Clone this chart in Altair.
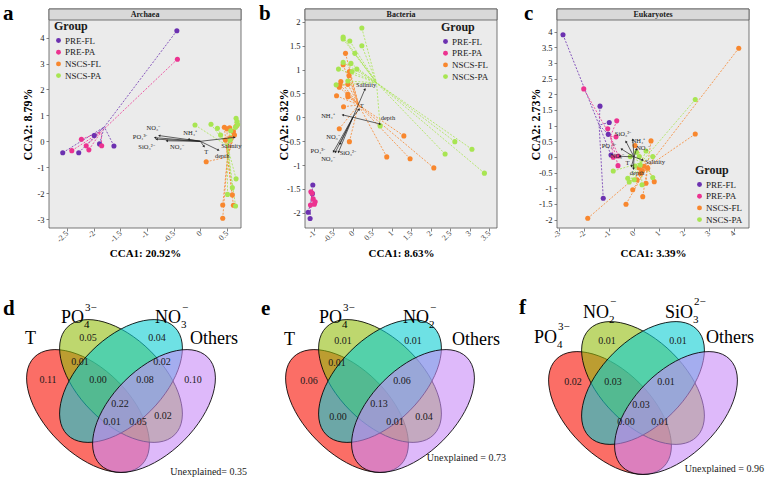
import altair as alt
import numpy as np
import pandas as pd

FONT = "Liberation Serif"
W, H = 767, 480

GROUPS = ["PRE-FL", "PRE-PA", "NSCS-FL", "NSCS-PA"]
GROUP_COLORS = ["#6C31B0", "#EC3390", "#F8872E", "#A8E552"]

# ---------------- Archaea CCA ----------------
arc_prefl_x = [-0.44, -2.58, -2.28, -1.99, -1.89, -1.62]
arc_prefl_y = [4.27, -0.44, -0.44, 0.22, -0.10, -0.18]
arc_prepa_x = [-0.43, -2.23, -2.41, -2.14, -2.09, -1.85]
arc_prepa_y = [3.17, 0.08, -0.36, -0.17, -0.33, -0.17]
arc_nfl_x = [0.45, 0.50, 0.55, 0.62, 0.68, 0.64, 0.47, 0.56, 0.11, 0.60, 0.42, 0.62, 0.42]
arc_nfl_y = [0.54, 0.48, 0.52, 0.37, 0.60, 0.24, 0.05, 0.12, -0.79, -2.07, -2.46, -2.47, -2.97]
arc_npa_x = [-0.10, 0.20, 0.32, 0.38, 0.57, 0.67, 0.69, 0.66, 0.56, 0.70, 0.67, 0.60, 0.51, 0.66]
arc_npa_y = [0.63, 0.66, 0.50, 0.24, 0.41, 0.89, 0.76, 0.54, 0.05, 0.65, -1.45, -1.79, -2.05, -2.50]
arc_env = ["NO₃⁻", "PO₄³⁻", "SiO₃²⁻", "NO₂⁻", "NH₄⁺", "T", "depth", "Salinity"]
arc_env_x = [-0.77, -0.85, -0.82, -0.63, -0.22, 0.07, 0.34, 0.64]
arc_env_y = [0.22, 0.14, 0.08, 0.02, 0.08, -0.20, -0.34, 0.15]

# ---------------- Bacteria CCA ----------------
bac_prefl_x = [-1.03, -1.04, -1.15, -1.10]
bac_prefl_y = [-1.42, -1.60, -1.99, -2.12]
bac_prepa_x = [-1.08, -1.09, -1.02, -0.97, -0.99, -1.05]
bac_prepa_y = [-1.56, -1.84, -1.71, -1.77, -1.82, -1.59]
bac_nfl_x = [-0.19, -0.25, -0.09, -0.10, -0.31, -0.33, -0.35, -0.13, -0.13, -0.13, -0.42, -0.24,
             -0.35, -0.09, 1.31, 0.87, 1.47, 2.08]
bac_nfl_y = [1.34, 1.10, 0.96, 0.87, 0.75, 0.68, 0.63, 0.69, 0.48, 0.43, 0.45, 0.22,
             -0.24, -0.51, -0.39, -0.83, -0.87, -1.06]
bac_npa_x = [0.23, -0.25, -0.25, -0.08, 0.23, 0.05, -0.25, -0.05, 0.10, -0.37, -0.02, -0.13,
             -0.43, 0.70, 2.62, 3.06, 2.37, 3.38]
bac_npa_y = [1.87, 1.68, 1.64, 1.60, 1.50, 1.34, 1.15, 1.13, 1.01, 1.01, 0.96, 0.76,
             0.68, -0.18, -0.51, -0.67, -0.77, -1.17]
bac_env = ["Salinity", "T", "depth", "NH₄⁺", "NO₃⁻", "PO₄³⁻", "NO₂⁻", "SiO₃²⁻"]
bac_env_x = [0.31, 0.16, 0.70, -0.26, -0.33, -0.50, -0.45, -0.37]
bac_env_y = [0.59, 0.17, -0.14, 0.05, -0.56, -0.72, -0.73, -0.73]

# ---------------- Eukaryotes CCA ----------------
euk_prefl_x = [-2.84, -1.36, -0.99, -1.03, -0.92, -1.23]
euk_prefl_y = [3.90, 1.62, 1.10, 0.72, 0.06, -1.32]
euk_prepa_x = [-2.01, -0.69, -1.05, -0.72, -0.63, -0.83, -0.64]
euk_prepa_y = [2.17, 1.15, 0.90, 0.64, 0.03, -0.01, -0.28]
euk_nfl_x = [4.19, 2.45, 0.68, 0.04, 0.55, 0.31, 0.25, 0.81, 0.48, 0.12, -0.05, 0.35, -0.32, -1.85, 0.40, 0.20]
euk_nfl_y = [3.47, 0.73, 0.51, 0.36, -0.36, -0.44, -0.53, -0.79, -0.84, -0.73, -1.05, -1.27, -1.51, -1.96, -0.30, -0.35]
euk_npa_x = [2.45, 0.75, 0.48, 0.21, -0.15, -0.83, 0.04, 0.25, -0.25, -0.19, 0.01, 0.32, 0.75, 0.10]
euk_npa_y = [1.83, 0.01, 0.19, 0.01, 0.01, -0.45, -0.29, -0.26, -0.68, -0.80, -0.73, -0.89, -0.66, 0.15]
euk_env = ["SiO₃²⁻", "NH₄⁺", "NO₃⁻", "PO₄³⁻", "NO₂⁻", "Salinity", "T", "depth"]
euk_env_x = [-0.32, -0.05, 0.10, -0.50, -0.56, 0.35, -0.10, -0.02]
euk_env_y = [0.49, 0.55, 0.25, 0.25, 0.02, -0.10, -0.30, -0.38]

# ---------------- Variation partitioning ----------------
vpa_d_sets = ["T", "PO₄³⁻", "NO₃⁻", "Others"]
vpa_d_values = [0.11, 0.05, 0.04, 0.10, 0.01, 0.02, 0.00, 0.08, 0.22, 0.01, 0.05, 0.02]
vpa_d_unexplained = 0.35
vpa_e_sets = ["T", "PO₄³⁻", "NO₂⁻", "Others"]
vpa_e_values = [0.06, 0.01, 0.01, 0.01, 0.06, 0.13, 0.00, 0.01, 0.04]
vpa_e_unexplained = 0.73
vpa_f_sets = ["PO₄³⁻", "NO₂⁻", "SiO₃²⁻", "Others"]
vpa_f_values = [0.02, 0.01, 0.01, 0.03, 0.01, 0.03, 0.00, 0.01]
vpa_f_unexplained = 0.96

# ---------------- layout ----------------
Y_TOP, Y_BOT, STRIP_TOP = 20, 228, 9
LBL = "datum.value < 0 ? '-' + format(-datum.value, '~g') : format(datum.value, '~g')"
color_scale = alt.Scale(domain=GROUPS, range=GROUP_COLORS)

cca_panels = [
    dict(name="Archaea", letter="a", lx=3, x0=49, x1=241, xdom=[-2.8375, 0.7625], ydom=[-3.347, 4.683],
         xticks=[-2.5, -2, -1.5, -1, -0.5, 0, 0.5], yticks=[-3, -2, -1, 0, 1, 2, 3, 4],
         xtitle="CCA1: 20.92%", ytitle="CCA2: 8.79%", leg=(54, 21),
         sites=[(arc_prefl_x, arc_prefl_y), (arc_prepa_x, arc_prepa_y), (arc_nfl_x, arc_nfl_y), (arc_npa_x, arc_npa_y)],
         env=(arc_env, arc_env_x, arc_env_y),
         lab=[(-0.88, 0.50), (-1.13, 0.15), (-1.01, -0.21), (-0.44, -0.21), (-0.19, 0.31), (0.11, -0.40),
              (0.41, -0.57), (0.58, -0.18)]),
    dict(name="Bacteria", letter="b", lx=259, x0=305, x1=497, xdom=[-1.231, 3.704], ydom=[-2.32, 2.039],
         xticks=[-1, -0.5, 0, 0.5, 1, 1.5, 2, 2.5, 3, 3.5], yticks=[-2, -1.5, -1, -0.5, 0, 0.5, 1, 1.5, 2],
         xtitle="CCA1: 8.63%", ytitle="CCA2: 6.32%", leg=(441, 22),
         sites=[(bac_prefl_x, bac_prefl_y), (bac_prepa_x, bac_prepa_y), (bac_nfl_x, bac_nfl_y), (bac_npa_x, bac_npa_y)],
         env=(bac_env, bac_env_x, bac_env_y),
         lab=[(0.34, 0.68), (0.23, 0.24), (0.90, -0.01), (-0.64, 0.03), (-0.51, -0.41), (-0.90, -0.71),
              (-0.64, -0.87), (-0.13, -0.75)]),
    dict(name="Eukaryotes", letter="c", lx=524, x0=557, x1=749, xdom=[-3.08, 4.6], ydom=[-2.27, 4.37],
         xticks=[-3, -2, -1, 0, 1, 2, 3, 4], yticks=[-2, -1.5, -1, -0.5, 0, 0.5, 1, 1.5, 2, 2.5, 3, 3.5, 4],
         xtitle="CCA1: 3.39%", ytitle="CCA2: 2.73%", leg=(695, 165),
         sites=[(euk_prefl_x, euk_prefl_y), (euk_prepa_x, euk_prepa_y), (euk_nfl_x, euk_nfl_y), (euk_npa_x, euk_npa_y)],
         env=(euk_env, euk_env_x, euk_env_y),
         lab=[(-0.44, 0.72), (0.18, 0.50), (0.36, 0.29), (-1.00, 0.36), (-0.66, 0.02), (0.84, -0.15),
              (-0.26, -0.20), (0.12, -0.52)]),
]

layers = []

for p in cca_panels:
    xsc = alt.Scale(domain=p["xdom"], range=[p["x0"], p["x1"]], nice=False, zero=False)
    ysc = alt.Scale(domain=p["ydom"], range=[Y_BOT, Y_TOP], nice=False, zero=False)
    one = pd.DataFrame({"k": [0]})
    mid = (p["x0"] + p["x1"]) / 2

    # panel background and strip
    layers.append(alt.Chart(one).mark_rect(fill="#EBEBEB", stroke="#555555", strokeWidth=0.8).encode(
        x=alt.value(p["x0"]), x2=alt.value(p["x1"]), y=alt.value(STRIP_TOP), y2=alt.value(Y_BOT)))
    layers.append(alt.Chart(one).mark_rect(fill="#D9D9D9", stroke="#555555", strokeWidth=0.8).encode(
        x=alt.value(p["x0"]), x2=alt.value(p["x1"]), y=alt.value(STRIP_TOP), y2=alt.value(Y_TOP)))
    layers.append(alt.Chart(one).mark_text(text=p["name"], font=FONT, fontSize=8, fontWeight="bold",
                                           baseline="middle", color="#1a1a1a").encode(
        x=alt.value(mid), y=alt.value((STRIP_TOP + Y_TOP) / 2 + 0.5)))

    rows = []
    for g, (xs, ys) in zip(GROUPS, p["sites"]):
        rows += [{"group": g, "x": a, "y": b} for a, b in zip(xs, ys)]
    sites = pd.DataFrame(rows)

    # dashed spokes from each sample to its group centroid
    layers.append(alt.Chart(sites).transform_joinaggregate(
        cx="mean(x)", cy="mean(y)", groupby=["group"]
    ).mark_rule(strokeDash=[2, 1.5], strokeWidth=0.8).encode(
        x=alt.X("x:Q", scale=xsc, axis=None),
        y=alt.Y("y:Q", scale=ysc, axis=None),
        x2="cx:Q", y2="cy:Q",
        color=alt.Color("group:N", scale=color_scale, legend=None)))

    xaxis = alt.Axis(values=p["xticks"], orient="bottom", offset=Y_BOT - H, domain=False, grid=False,
                     tickSize=3, tickColor="#333333", tickWidth=0.6, labelAngle=-45, labelAlign="right",
                     labelBaseline="middle", labelFont=FONT, labelFontSize=8, labelColor="#444444",
                     labelPadding=1, labelOverlap=False, labelExpr=LBL,
                     title=p["xtitle"], titleFont=FONT, titleFontSize=11, titleFontWeight="bold",
                     titleColor="#000000", titleY=25, titleBaseline="middle")
    yaxis = alt.Axis(values=p["yticks"], orient="left", offset=-p["x0"], domain=False, grid=False,
                     tickSize=3, tickColor="#333333", tickWidth=0.6, labelFont=FONT, labelFontSize=8.5,
                     labelColor="#222222", labelPadding=2, labelOverlap=False, labelExpr=LBL,
                     title=p["ytitle"], titleFont=FONT, titleFontSize=12, titleFontWeight="bold",
                     titleColor="#000000", titleX=-22, titleBaseline="middle")
    legend = alt.Legend(title="Group", orient="none", legendX=p["leg"][0], legendY=p["leg"][1],
                        titleFont=FONT, titleFontSize=12, titleFontWeight="bold", titleColor="#1a1a1a",
                        titlePadding=3, labelFont=FONT, labelFontSize=9, labelColor="#1a1a1a",
                        labelOffset=2, symbolType="circle", symbolSize=24, symbolStrokeWidth=0,
                        rowPadding=1.7, padding=0)
    layers.append(alt.Chart(sites).mark_circle(size=26, opacity=1).encode(
        x=alt.X("x:Q", scale=xsc, axis=xaxis),
        y=alt.Y("y:Q", scale=ysc, axis=yaxis),
        color=alt.Color("group:N", scale=color_scale, legend=legend)))

    # environmental vectors
    names, ex, ey = p["env"]
    kx = (p["x1"] - p["x0"]) / (p["xdom"][1] - p["xdom"][0])
    ky = (Y_BOT - Y_TOP) / (p["ydom"][1] - p["ydom"][0])
    env = pd.DataFrame({"label": names, "x": ex, "y": ey, "ox": 0.0, "oy": 0.0,
                        "lx": [l[0] for l in p["lab"]], "ly": [l[1] for l in p["lab"]]})
    env["ang"] = np.degrees(np.arctan2(env["x"] * kx, env["y"] * ky)) % 360
    layers.append(alt.Chart(env).mark_rule(color="#222222", strokeWidth=0.7).encode(
        x=alt.X("ox:Q", scale=xsc, axis=None), y=alt.Y("oy:Q", scale=ysc, axis=None),
        x2="x:Q", y2="y:Q"))
    layers.append(alt.Chart(env).mark_point(shape="triangle-up", filled=True, size=7, color="#222222",
                                            opacity=1).encode(
        x=alt.X("x:Q", scale=xsc, axis=None), y=alt.Y("y:Q", scale=ysc, axis=None),
        angle=alt.Angle("ang:Q", scale=None)))
    layers.append(alt.Chart(env).mark_text(font=FONT, fontSize=6.5, color="#222222").encode(
        x=alt.X("lx:Q", scale=xsc, axis=None), y=alt.Y("ly:Q", scale=ysc, axis=None),
        text="label:N"))

# ---------------- Venn diagrams ----------------
SEMI_A, SEMI_B = 76, 42
kb = 0.5523 * SEMI_B / SEMI_A
bb = SEMI_B / SEMI_A
ELLIPSE = (f"M -1 0 C -1 {-kb:.4f} -0.5523 {-bb:.4f} 0 {-bb:.4f} "
           f"C 0.5523 {-bb:.4f} 1 {-kb:.4f} 1 0 "
           f"C 1 {kb:.4f} 0.5523 {bb:.4f} 0 {bb:.4f} "
           f"C -0.5523 {bb:.4f} -1 {kb:.4f} -1 0 Z")
VENN_FILL = ["#F80D00", "#93BC0D", "#0DCDD2", "#C88AF7"]

venn_panels = [
    dict(letter="d", lx=3, ly=315, cx=121, cy=395, sets=vpa_d_sets, values=vpa_d_values,
         unexplained="Unexplained= %.2f" % vpa_d_unexplained, ux=247, uy=475,
         pos=[(-73, 380), (-33, 338), (36, 338), (72, 380), (-41, 362), (41, 362), (-23, 380),
              (24, 380), (-1, 404), (-9, 422), (17, 422), (42, 416)],
         labels=[("T", 25, 344, 18), ("PO", 61, 323, 18), ("4", 84, 328, 11), ("3−", 85, 311, 11),
                 ("NO", 155, 323, 18), ("3", 181, 328, 11), ("−", 182, 311, 11), ("Others", 190, 344, 18)]),
    dict(letter="e", lx=261, ly=315, cx=380, cy=395, sets=vpa_e_sets, values=vpa_e_values,
         unexplained="Unexplained = %.2f" % vpa_e_unexplained, ux=506, uy=461,
         pos=[(-71, 381), (-37, 341), (33, 341), (-43, 363), (22, 381), (-1, 404), (-42, 417),
              (15, 422), (44, 417)],
         labels=[("T", 284, 345, 18), ("PO", 319, 323, 18), ("4", 342, 328, 11), ("3−", 343, 311, 11),
                 ("NO", 403, 323, 18), ("2", 429, 328, 11), ("−", 430, 311, 11), ("Others", 452, 345, 18)]),
    dict(letter="f", lx=519, ly=314, cx=643, cy=397, sets=vpa_f_sets, values=vpa_f_values,
         unexplained="Unexplained = %.2f" % vpa_f_unexplained, ux=764, uy=472,
         pos=[(-70, 382), (-36, 341), (35, 341), (-30, 382), (23, 382), (-2, 405), (-17, 422), (17, 422)],
         labels=[("PO", 534, 343, 18), ("4", 557, 348, 11), ("3−", 558, 330, 11),
                 ("NO", 583, 318, 18), ("2", 609, 323, 11), ("−", 610, 305, 11),
                 ("SiO", 665, 318, 18), ("3", 693, 323, 11), ("2−", 694, 305, 11),
                 ("Others", 706, 343, 18)]),
]

for v in venn_panels:
    vx = alt.Scale(domain=[-150, 150], range=[v["cx"] - 150, v["cx"] + 150], nice=False, zero=False)
    vy = alt.Scale(domain=[-100, 100], range=[v["cy"] - 100, v["cy"] + 100], nice=False, zero=False)
    ell = pd.DataFrame({
        "set": v["sets"],
        "dx": [-33, 0, 0, 33],
        "dy": [16, -14, -14, 16],
        "ang": [45, 45, 315, 315],
    })
    layers.append(alt.Chart(ell).mark_point(shape=ELLIPSE, size=(2 * SEMI_A) ** 2, filled=True,
                                            fillOpacity=0.6, opacity=1, stroke="#000000",
                                            strokeWidth=0.8, strokeOpacity=1).encode(
        x=alt.X("dx:Q", scale=vx, axis=None), y=alt.Y("dy:Q", scale=vy, axis=None),
        angle=alt.Angle("ang:Q", scale=None),
        color=alt.Color("set:N", scale=alt.Scale(domain=v["sets"], range=VENN_FILL), legend=None),
        order=alt.Order("order:Q")).transform_window(order="row_number()"))

    reg = pd.DataFrame({"val": ["%.2f" % x for x in v["values"]],
                        "dx": [q[0] for q in v["pos"]],
                        "dy": [q[1] - v["cy"] for q in v["pos"]]})
    layers.append(alt.Chart(reg).mark_text(font=FONT, fontSize=10, color="#1a1a1a", baseline="middle").encode(
        x=alt.X("dx:Q", scale=vx, axis=None), y=alt.Y("dy:Q", scale=vy, axis=None), text="val:N"))

    setlab = pd.DataFrame({"txt": [q[0] for q in v["labels"]],
                           "dx": [q[1] - v["cx"] for q in v["labels"]],
                           "dy": [q[2] - v["cy"] for q in v["labels"]],
                           "fs": [q[3] for q in v["labels"]]})
    layers.append(alt.Chart(setlab).mark_text(font=FONT, align="left", baseline="alphabetic",
                                              color="#000000").encode(
        x=alt.X("dx:Q", scale=vx, axis=None), y=alt.Y("dy:Q", scale=vy, axis=None),
        text="txt:N", size=alt.Size("fs:Q", scale=None)))

    layers.append(alt.Chart(pd.DataFrame({"t": [v["unexplained"]]})).mark_text(
        font=FONT, fontSize=10, align="right", baseline="alphabetic", color="#1a1a1a").encode(
        x=alt.value(v["ux"]), y=alt.value(v["uy"]), text="t:N"))

# panel letters
letters = pd.DataFrame({
    "t": [p["letter"] for p in cca_panels] + [v["letter"] for v in venn_panels],
    "px": [p["lx"] for p in cca_panels] + [v["lx"] for v in venn_panels],
    "py": [20, 20, 20] + [v["ly"] for v in venn_panels],
})
layers.append(alt.Chart(letters).mark_text(font=FONT, fontSize=21, fontWeight="bold", align="left",
                                           baseline="alphabetic", color="#000000").encode(
    x=alt.X("px:Q", scale=None), y=alt.Y("py:Q", scale=None), text="t:N"))

chart = alt.layer(*layers).resolve_scale(
    x="independent", y="independent", color="independent"
).properties(
    width=W, height=H, padding=0, autosize=alt.AutoSizeParams(type="none"), background="white"
).configure_view(stroke=None)

chart.save("out.html", embed_options={"renderer": "svg", "actions": False})
